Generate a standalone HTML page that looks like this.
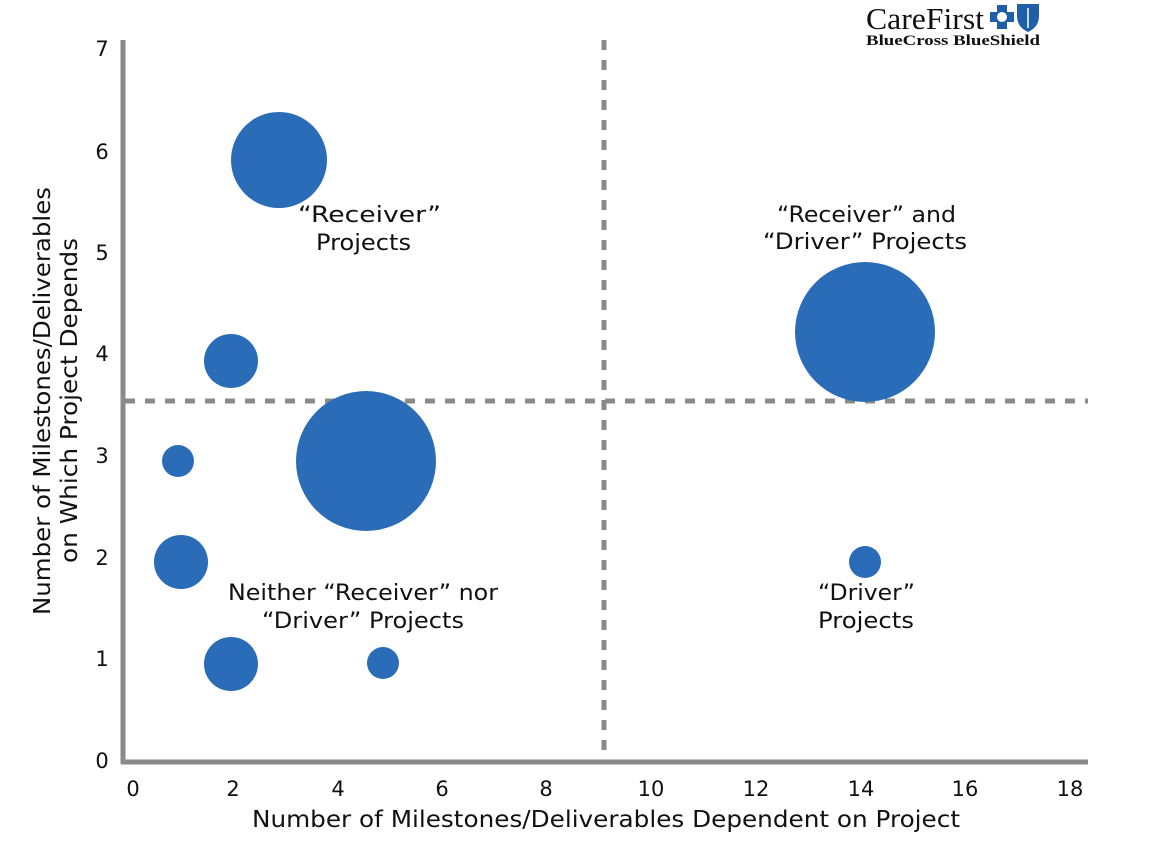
<!DOCTYPE html>
<html><head><style>
body{margin:0;background:#fff;}
svg text{font-family:"DejaVu Sans","Liberation Sans",sans-serif;fill:#111;}
</style></head><body>
<svg width="1152" height="854" viewBox="0 0 1152 854" xmlns="http://www.w3.org/2000/svg">
<rect width="1152" height="854" fill="#fff"/>
<!-- logo -->
<text x="866" y="29" textLength="118" lengthAdjust="spacingAndGlyphs" style="font-family:'Liberation Serif',serif;font-size:31px" fill="#222">CareFirst</text>
<text x="866" y="45" textLength="174" lengthAdjust="spacingAndGlyphs" style="font-family:'Liberation Serif',serif;font-size:15px;font-weight:bold" fill="#222">BlueCross BlueShield</text>
<rect x="997" y="5" width="10" height="24" fill="#1f5ea8"/><rect x="990" y="12" width="24" height="10" fill="#1f5ea8"/>
<circle cx="1002" cy="17" r="5" fill="#fff"/>
<path d="M1017 4 L1039 4 L1039 16 Q1039 27 1028 32 Q1017 27 1017 16 Z" fill="#1f5ea8"/>
<path d="M1028 8 L1028 28" stroke="#fff" stroke-width="1.5"/>
<!-- dashed lines -->
<line x1="604" y1="40" x2="604" y2="760" stroke="#8a8a8a" stroke-width="5" stroke-dasharray="10,10"/>
<line x1="125" y1="401" x2="1088" y2="401" stroke="#8a8a8a" stroke-width="5" stroke-dasharray="10,10"/>
<!-- axes -->
<line x1="123" y1="40" x2="123" y2="764" stroke="#8a8a8a" stroke-width="5"/>
<line x1="121" y1="762" x2="1088" y2="762" stroke="#8a8a8a" stroke-width="5"/>
<!-- bubbles -->
<g fill="#2b6cb8">
<circle cx="279" cy="160" r="48"/>
<circle cx="231" cy="361" r="27"/>
<circle cx="366" cy="461" r="70"/>
<circle cx="178" cy="461" r="16"/>
<circle cx="181" cy="562" r="27"/>
<circle cx="231" cy="664" r="27"/>
<circle cx="383" cy="663" r="16"/>
<circle cx="865" cy="332" r="70"/>
<circle cx="865" cy="562" r="16"/>
</g>
<g style="font-size:21px" text-anchor="middle">
<text x="102" y="768">0</text><text x="102" y="666">1</text><text x="102" y="565">2</text><text x="102" y="463">3</text><text x="102" y="361">4</text><text x="102" y="260">5</text><text x="102" y="159">6</text><text x="102" y="56">7</text>
<text x="133" y="796">0</text><text x="233" y="796">2</text><text x="338" y="796">4</text><text x="442" y="796">6</text><text x="546" y="796">8</text><text x="651" y="796">10</text><text x="756" y="796">12</text><text x="861" y="796">14</text><text x="965" y="796">16</text><text x="1070" y="796">18</text>
</g>
<text x="252" y="827" textLength="708" lengthAdjust="spacingAndGlyphs" style="font-size:23px">Number of Milestones/Deliverables Dependent on Project</text>
<g transform="translate(50,400) rotate(-90)" style="font-size:23px">
<text x="-215" y="0" textLength="428" lengthAdjust="spacingAndGlyphs">Number of Milestones/Deliverables</text>
<text x="-163" y="27" textLength="325" lengthAdjust="spacingAndGlyphs">on Which Project Depends</text>
</g>
<g style="font-size:22px">
<text x="298" y="222" textLength="143" lengthAdjust="spacingAndGlyphs">“Receiver”</text><text x="316" y="250" textLength="95" lengthAdjust="spacingAndGlyphs">Projects</text>
<text x="777" y="222" textLength="179" lengthAdjust="spacingAndGlyphs">“Receiver” and</text><text x="763" y="249" textLength="204" lengthAdjust="spacingAndGlyphs">“Driver” Projects</text>
<text x="228" y="600" textLength="270" lengthAdjust="spacingAndGlyphs">Neither “Receiver” nor</text><text x="262" y="628" textLength="202" lengthAdjust="spacingAndGlyphs">“Driver” Projects</text>
<text x="818" y="600" textLength="97" lengthAdjust="spacingAndGlyphs">“Driver”</text><text x="818" y="628" textLength="96" lengthAdjust="spacingAndGlyphs">Projects</text>
</g>
</svg>
</body></html>
